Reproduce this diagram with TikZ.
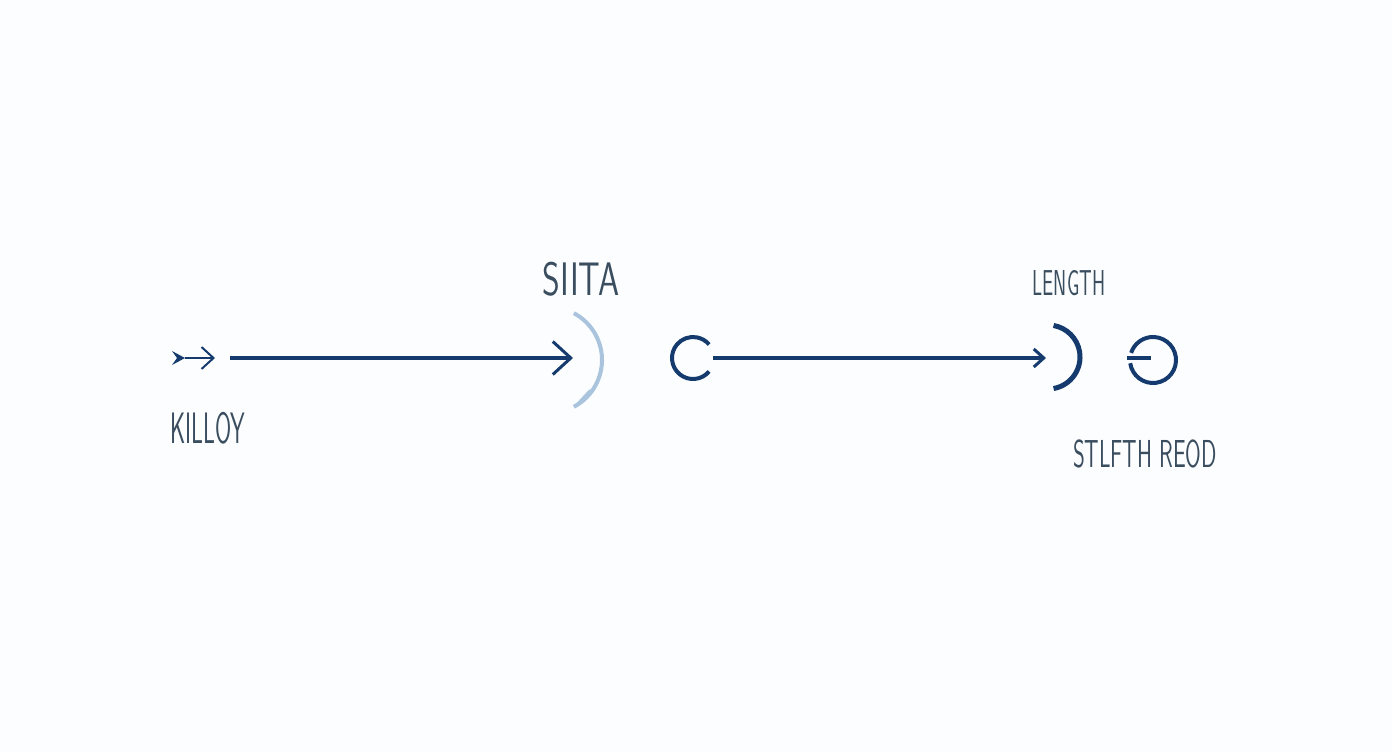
\documentclass[tikz,border=0pt]{standalone}
\usepackage{fontspec}
\usetikzlibrary{arrows.meta,positioning}

\definecolor{navy}{HTML}{143A6E}
\definecolor{paleblue}{HTML}{A9C4DC}
\definecolor{inkgray}{HTML}{3A4E60}
\definecolor{bgwhite}{HTML}{FCFDFE}

\begin{document}
\begin{tikzpicture}[
    x=1pt, y=-1pt,
    lbl/.style={font=\sffamily, text=inkgray, inner sep=0pt, anchor=base},
    shaft/.style={draw=navy, line width=3.2pt},
    ring/.style={draw=navy, line width=4pt}
]

% === Canvas ===
\fill[bgwhite] (0,0) rectangle (1392,752);
\useasboundingbox (0,0) rectangle (1392,752);

% === Anchor points ===
\coordinate (fletch) at (172,358);
\coordinate (fletch-tip) at (185,358);
\coordinate (mini-tip) at (215,358);
\coordinate (start) at (230,358);
\coordinate (first-tip) at (573,358);
\coordinate (c-open) at (713,358);
\coordinate (second-tip) at (1046,358);
\coordinate (stub-in) at (1127,358);
\coordinate (stub-out) at (1151,358);

% === Labels ===
\node[lbl, font=\sffamily\fontsize{47}{50}\selectfont, xscale=0.72] (siita) at (581,295) {SIITA};
\node[lbl, font=\sffamily\fontsize{36}{40}\selectfont, xscale=0.55] (length) at (1069,295) {LENGTH};
\node[lbl, font=\sffamily\fontsize{44}{48}\selectfont, xscale=0.53] (killoy) at (208,443) {KILLOY};
\node[lbl, font=\sffamily\fontsize{39}{42}\selectfont, xscale=0.58] (stlfth) at (1145,467) {STLFTH REOD};

% === Small arrow at the left ===
\fill[navy] (fletch) ++(0,-7) -- (fletch-tip) -- ++(-13,7) -- ++(5,-7) -- cycle;
\draw[draw=navy, line width=2pt, -{Straight Barb[length=12pt, width=22pt, line width=2pt]}]
    (fletch-tip) -- (mini-tip);

% === First arrow with pale bracket ===
\draw[shaft, -{Straight Barb[length=18pt, width=33pt, line width=3pt]}] (start) -- (first-tip);
\draw[draw=paleblue, line width=4pt] (549,360) ++(62:53) arc[start angle=62, end angle=-62, radius=53];
\draw[draw=paleblue, line width=1.8pt] (577,404) -- (590,390);

% === C ring and second arrow ===
\draw[ring] (693,358) ++(40:21) arc[start angle=40, end angle=320, radius=21];
\draw[shaft, -{Straight Barb[length=10pt, width=18pt, line width=3pt]}] (c-open) -- (second-tip);
\draw[draw=navy, line width=5pt] (1048,357) ++(80:32) arc[start angle=80, end angle=-80, radius=32];

% === Closing ring ===
\draw[ring] (1153,360) ++(172:23) arc[start angle=172, end angle=-162, radius=23];
\draw[draw=navy, line width=4pt] (stub-in) -- (stub-out);

\end{tikzpicture}
\end{document}
